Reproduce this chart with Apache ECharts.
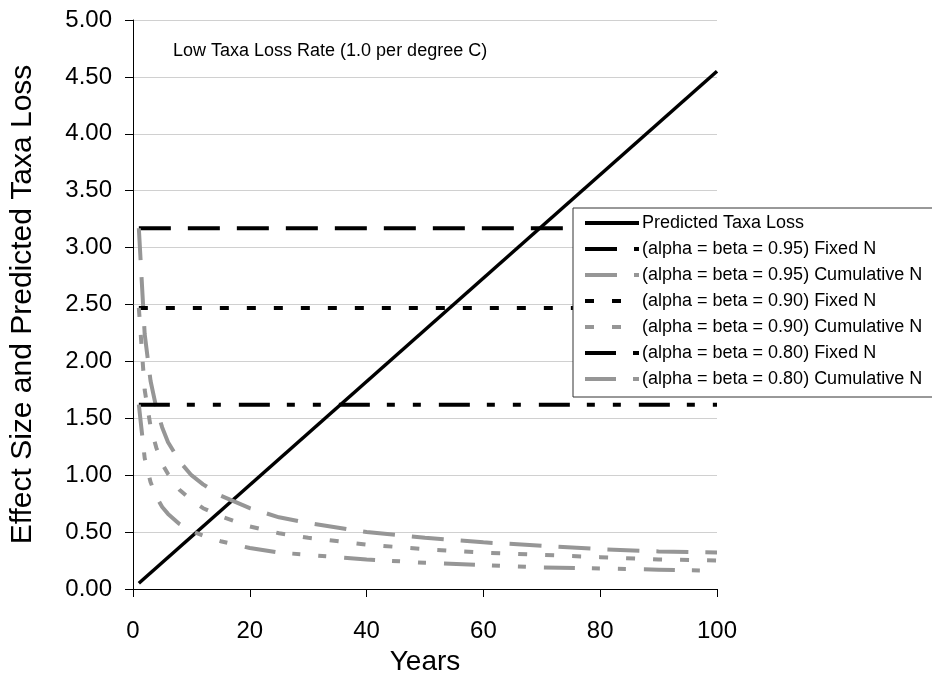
<!DOCTYPE html>
<html>
<head>
<meta charset="utf-8">
<script src="https://cdn.jsdelivr.net/npm/echarts@6/dist/echarts.min.js"></script>
<style>
  html, body { margin: 0; padding: 0; background: #fff; }
  #chart { width: 932px; height: 675px; }
</style>
</head>
<body>
<div id="chart"></div>
<script>
// values
const predYears = [1, 100]
const predicted = [0.05, 4.55]

const fixedYears = [1, 100]
const fixed95 = [3.17, 3.17]
const fixed90 = [2.47, 2.47]
const fixed80 = [1.62, 1.62]

const cumYears = [1, 2, 3, 4, 5, 6, 8, 10, 12, 15, 20, 25, 30, 40, 50, 60, 70, 80, 90, 100]
const cum95 = [3.17, 2.24, 1.83, 1.59, 1.42, 1.29, 1.12, 1.00, 0.92, 0.82, 0.71, 0.63, 0.58, 0.50, 0.45, 0.41, 0.38, 0.35, 0.33, 0.32]
const cum90 = [2.47, 1.75, 1.43, 1.24, 1.10, 1.01, 0.87, 0.78, 0.71, 0.64, 0.55, 0.49, 0.45, 0.39, 0.35, 0.32, 0.30, 0.28, 0.26, 0.25]
const cum80 = [1.62, 1.15, 0.94, 0.81, 0.72, 0.66, 0.57, 0.51, 0.47, 0.42, 0.36, 0.32, 0.30, 0.26, 0.23, 0.21, 0.19, 0.18, 0.17, 0.16]

const font = 'Liberation Sans, Arial, sans-serif'
const grey = '#969696'

// dash patterns (px)
const longDash = [32, 17]
const dotDash = [9, 18]
const dashDotDot = [31, 17, 8, 18, 8, 18]

const pairs = (xs, ys) => xs.map((x, i) => [x, ys[i]])

const line = (name, xs, ys, color, width, type) => ({
    name: name,
    type: 'line',
    data: pairs(xs, ys),
    showSymbol: false,
    symbol: 'none',
    animation: false,
    lineStyle: { color: color, width: width, type: type, cap: 'butt' },
    itemStyle: { color: color }
})

const chart = echarts.init(document.getElementById('chart'))

chart.setOption({
    animation: false,
    textStyle: { fontFamily: font },
    title: {
        text: 'Low Taxa Loss Rate (1.0 per degree C)',
        left: 173,
        top: 42,
        padding: 0,
        textStyle: { fontFamily: font, fontSize: 18, fontWeight: 'normal', color: '#000' }
    },
    grid: { left: 133, right: 215, top: 20, bottom: 86, outerBoundsMode: 'none', containLabel: false },
    // legend frame runs off the right edge, as in the original
    graphic: {
        z: 10,
        elements: [{
            type: 'rect',
            z: 10,
            shape: { x: 573, y: 208, width: 420, height: 189 },
            style: { fill: '#fff', stroke: '#333', lineWidth: 1 }
        }]
    },
    legend: {
        orient: 'vertical',
        left: 573,
        top: 208,
        z: 20,
        padding: [6, 10, 10, 10],
        itemGap: 8,
        itemWidth: 54,
        itemHeight: 14,
        itemStyle: { opacity: 0 },
        lineStyle: { width: 4 },
        textStyle: { fontFamily: font, fontSize: 18, color: '#000', lineHeight: 18, padding: [0, 0, 0, -2] },
        data: [
            'Predicted Taxa Loss',
            '(alpha = beta = 0.95) Fixed N',
            '(alpha = beta = 0.95) Cumulative N',
            '(alpha = beta = 0.90) Fixed N',
            '(alpha = beta = 0.90) Cumulative N',
            '(alpha = beta = 0.80) Fixed N',
            '(alpha = beta = 0.80) Cumulative N'
        ]
    },
    xAxis: {
        type: 'value',
        min: 0,
        max: 100,
        interval: 20,
        name: 'Years',
        nameLocation: 'middle',
        nameGap: 56,
        nameTextStyle: { fontFamily: font, fontSize: 28, color: '#000' },
        axisLine: { show: true, onZero: false, lineStyle: { color: '#000', width: 1 } },
        axisTick: { show: true, inside: false, length: 8, lineStyle: { color: '#000' } },
        axisLabel: { margin: 30, fontFamily: font, fontSize: 24, color: '#000' },
        splitLine: { show: false }
    },
    yAxis: {
        type: 'value',
        min: 0,
        max: 5,
        interval: 0.5,
        name: 'Effect Size and Predicted Taxa Loss',
        nameLocation: 'middle',
        nameGap: 95,
        nameTextStyle: { fontFamily: font, fontSize: 30, color: '#000' },
        axisLine: { show: true, lineStyle: { color: '#000', width: 1 } },
        axisTick: { show: true, inside: false, length: 8, lineStyle: { color: '#000' } },
        axisLabel: {
            margin: 21,
            fontFamily: font,
            fontSize: 24,
            color: '#000',
            formatter: v => v.toFixed(2)
        },
        splitLine: { show: true, lineStyle: { color: '#d0d0d0', width: 1 } }
    },
    series: [
        line('Predicted Taxa Loss', predYears, predicted, '#000', 3.5, 'solid'),
        line('(alpha = beta = 0.95) Fixed N', fixedYears, fixed95, '#000', 4, longDash),
        line('(alpha = beta = 0.95) Cumulative N', cumYears, cum95, grey, 4, longDash),
        line('(alpha = beta = 0.90) Fixed N', fixedYears, fixed90, '#000', 4, dotDash),
        line('(alpha = beta = 0.90) Cumulative N', cumYears, cum90, grey, 4, dotDash),
        line('(alpha = beta = 0.80) Fixed N', fixedYears, fixed80, '#000', 4, dashDotDot),
        line('(alpha = beta = 0.80) Cumulative N', cumYears, cum80, grey, 4, dashDotDot)
    ]
})
</script>
</body>
</html>
